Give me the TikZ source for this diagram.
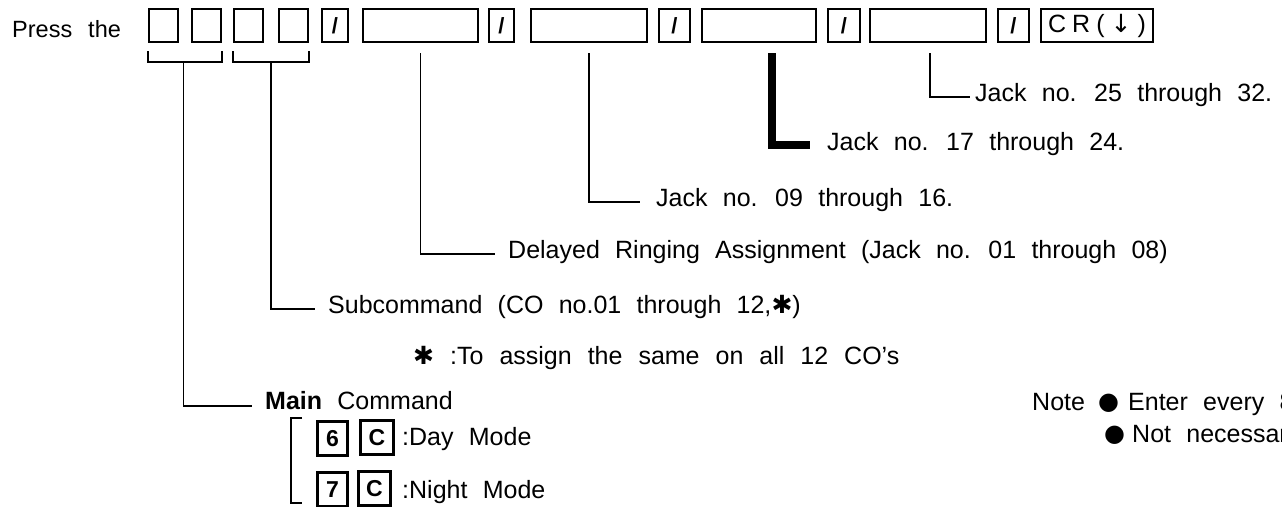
\documentclass[tikz,border=0pt]{standalone}
\usepackage{fontspec}
\setmainfont{Liberation Sans}[WordSpace=2.2]
\newfontfamily\symfont{DejaVu Sans}
\usetikzlibrary{calc}
\newcommand\wordgap[1]{\spaceskip=#1\relax}
\begin{document}
\begin{tikzpicture}[x=1pt,y=-1pt,
  key/.style={draw, line width=2.2pt, inner sep=0pt, minimum height=33pt, font=\bfseries\fontsize{22}{24}\selectfont},
  mkey/.style={draw, line width=2.2pt, inner sep=0pt, minimum width=30pt, minimum height=34pt, font=\bfseries\fontsize{23}{24}\selectfont},
  lbl/.style={anchor=base west, inner sep=0pt, font=\fontsize{25}{28}\selectfont},
  dot/.style={anchor=base west, inner sep=0pt, font=\symfont\fontsize{24}{26}\selectfont},
  conn/.style={line width=1.8pt},
  thick conn/.style={line width=8pt},
]
\useasboundingbox (0,0) rectangle (1282,506);
\clip (0,0) rectangle (1282,506);

% top row of keys
\node[lbl, font=\fontsize{23.5}{28}\selectfont] (press) at (12,37) {\wordgap{16pt}Press the};
\node[key, minimum width=29pt] (k1) at (163.5,25.5) {};
\node[key, minimum width=29pt] (k2) at (206.5,25.5) {};
\node[key, minimum width=29pt] (k3) at (248.5,25.5) {};
\node[key, minimum width=29pt] (k4) at (293.5,25.5) {};
\node[key, minimum width=26pt] (s1) at (335,25.5) {/};
\node[key, minimum width=115pt] (k6) at (420.5,25.5) {};
\node[key, minimum width=25pt] (s2) at (501.5,25.5) {/};
\node[key, minimum width=116pt] (k8) at (589,25.5) {};
\node[key, minimum width=31pt] (s3) at (674.5,25.5) {/};
\node[key, minimum width=114pt] (k10) at (759,25.5) {};
\node[key, minimum width=32pt] (s4) at (844,25.5) {/};
\node[key, minimum width=116pt] (k12) at (928,25.5) {};
\node[key, minimum width=31pt] (s5) at (1013.5,25.5) {/};
\node[key, minimum width=112pt, font=\fontsize{25}{26}\selectfont] (cr) at (1097,25.5) {\wordgap{6pt}C R ( {\symfont ↓} )};

% labels
\node[lbl] (j25) at (975,101) {Jack no. 25 through 32.};
\node[lbl] (j17) at (827,150) {Jack no. 17 through 24.};
\node[lbl] (j09) at (656,206) {Jack no. 09 through 16.};
\node[lbl] (dra) at (508,258) {Delayed Ringing Assignment (Jack no. 01 through 08)};
\node[lbl] (sub) at (328,313) {Subcommand (CO no.01 through 12,{\symfont ✱})};
\node[lbl] (ast) at (413,364) {\wordgap{16pt}{\symfont ✱} :To assign the same on all 12 CO's};
\node[lbl] (main) at (265,409) {\textbf{Main} Command};

% brackets under first key pairs
\draw[conn] ($(k1.south west)+(0,8)$) -- ($(k1.south west)+(0,19)$) -- ($(k2.south east)+(0,19)$) -- ($(k2.south east)+(0,8)$);
\draw[conn] ($(k3.south west)+(0,8)$) -- ($(k3.south west)+(0,19)$) -- ($(k4.south east)+(0,19)$) -- ($(k4.south east)+(0,8)$);

% connectors
\draw[conn] ($(k1.south west)!0.48!(k2.south east)+(0,19)$) |- ($(main.base west)+(-13,-3)$);
\draw[conn] ($(k3.south west)!0.5!(k4.south east)+(0,19)$) |- ($(sub.base west)+(-13,-4)$);
\draw[conn] ($(k6.south)+(0,10)$) |- ($(dra.base west)+(-13,-4)$);
\draw[conn] ($(k8.south)+(0,10)$) |- ($(j09.base west)+(-16,-4)$);
\draw[thick conn] ($(k10.south)+(13,10)$) |- ($(j17.base west)+(-17,-5)$);
\draw[conn] ($(k12.south)+(2,10)$) |- ($(j25.base west)+(-5,-4)$);

% mode selection
\node[mkey] (six) at (332.5,438.5) {6};
\node[mkey, minimum width=33pt] (c1) at (377,437.5) {C};
\node[lbl] (day) at (402,445) {:Day Mode};
\node[mkey] (seven) at (332.5,489.5) {7};
\node[mkey, minimum width=32pt] (c2) at (374.5,488.5) {C};
\node[lbl] (night) at (402,498) {:Night Mode};
\draw[conn] (302,418) -- (291,418) -- (291,503) -- (302,503);

% note
\node[lbl] (note) at (1032,410) {Note};
\node[dot] (b1) at (1098,409) {●};
\node[lbl] (n1) at (1128,410) {Enter every 8};
\node[dot] (b2) at (1104,441) {●};
\node[lbl] (n2) at (1132,442) {Not necessar};
\end{tikzpicture}
\end{document}
